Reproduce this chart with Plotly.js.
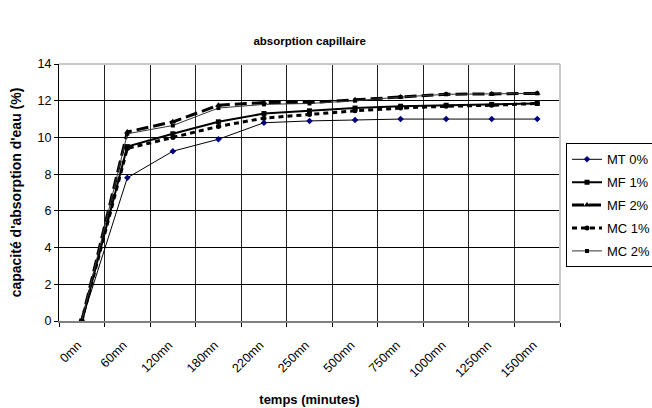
<!DOCTYPE html>
<html><head><meta charset="utf-8">
<script src="https://cdn.plot.ly/plotly-3.0.1.min.js"></script>
<style>html,body{margin:0;padding:0;background:#fff}</style>
</head><body>
<div id="chart" style="width:652px;height:408px"></div>
<script>
const categories = ["0mn","60mn","120mn","180mn","220mn","250mn","500mn","750mn","1000mn","1250mn","1500mn"];
const mt0 = [0, 7.8, 9.25, 9.9, 10.8, 10.9, 10.95, 11.0, 11.0, 11.0, 11.0];
const mf1 = [0, 9.5, 10.2, 10.85, 11.3, 11.45, 11.6, 11.7, 11.75, 11.8, 11.85];
const mf2 = [0, 10.3, 10.85, 11.75, 11.9, 11.9, 12.05, 12.2, 12.35, 12.37, 12.4];
const mc1 = [0, 9.4, 10.0, 10.6, 11.05, 11.25, 11.45, 11.6, 11.7, 11.75, 11.85];
const mc2 = [0, 10.2, 10.65, 11.6, 11.8, 11.85, 12.0, 12.2, 12.35, 12.37, 12.4];
const names = ["MT 0%","MF 1%","MF 2%","MC 1%","MC 2%"];

const font = {family: "Liberation Sans, Arial, sans-serif", color: "#000"};
const traces = [
  {x: categories, y: mt0, name: names[0], legendgroup: "a", mode: "lines+markers",
   line: {color: "#000", width: 1}, marker: {symbol: "diamond", size: 5, color: "#000080"}},
  {x: categories, y: mf1, name: names[1], legendgroup: "b", mode: "lines+markers",
   line: {color: "#000", width: 2}, marker: {symbol: "square", size: 5, color: "#000"}},
  {x: categories, y: mf2, name: names[2], legendgroup: "c", mode: "lines+markers",
   line: {color: "#000", width: 3, dash: "12px,5px"}, marker: {symbol: "triangle-up", size: 6, color: "#000"}},
  {x: categories, y: mc1, name: names[3], legendgroup: "d", mode: "lines+markers",
   line: {color: "#000", width: 3, dash: "5px,4px"}, marker: {symbol: "circle", size: 5, color: "#000"}},
  {x: categories, y: mc2, name: names[4], legendgroup: "e", mode: "lines+markers",
   line: {color: "#333", width: 1}, marker: {symbol: "square", size: 4, color: "#000"}}
];
const layout = {
  width: 652, height: 408,
  margin: {l: 59, r: 92, t: 64, b: 87, autoexpand: false},
  paper_bgcolor: "#fff", plot_bgcolor: "#fff",
  font: Object.assign({size: 12}, font),
  title: {text: "<b>absorption capillaire</b>", x: 0.475, xanchor: "center", y: 0.9, yanchor: "middle",
          font: Object.assign({size: 11.5}, font)},
  showlegend: true,
  legend: {x: 1.012, xanchor: "left", y: 0.45, yanchor: "middle", bordercolor: "#000", borderwidth: 1,
           font: Object.assign({size: 13}, font), tracegroupgap: 3, itemwidth: 30, bgcolor: "#fff"},
  xaxis: {type: "category", range: [-0.5, 10.5], tickson: "boundaries", ticks: "outside", ticklen: 4,
          tickcolor: "#000", showgrid: true, gridcolor: "#222", gridwidth: 1,
          showline: true, linecolor: "#808080", linewidth: 2, tickangle: -45,
          ticklabelstandoff: 10, ticklabelshift: -4,
          tickfont: Object.assign({size: 12.5}, font),
          title: {text: "<b>temps (minutes)</b>", font: Object.assign({size: 13}, font), standoff: 16}},
  yaxis: {range: [0, 14], dtick: 2, ticks: "outside", ticklen: 4, tickcolor: "#000",
          showgrid: true, gridcolor: "#000", gridwidth: 1, zeroline: false,
          showline: true, linecolor: "#000", linewidth: 1,
          tickfont: Object.assign({size: 12.5}, font),
          title: {text: "<b>capacité d'absorption d'eau (%)</b>", font: Object.assign({size: 14}, font), standoff: 12}},
  shapes: [
    {type: "line", xref: "paper", yref: "paper", x0: 0, x1: 1, y0: 1, y1: 1, line: {color: "#c8c8c8", width: 2}},
    {type: "line", xref: "paper", yref: "paper", x0: 1, x1: 1, y0: 0, y1: 1, line: {color: "#c8c8c8", width: 2}}
  ]
};
Plotly.newPlot("chart", traces, layout, {displayModeBar: false, staticPlot: true});
</script>
</body></html>
